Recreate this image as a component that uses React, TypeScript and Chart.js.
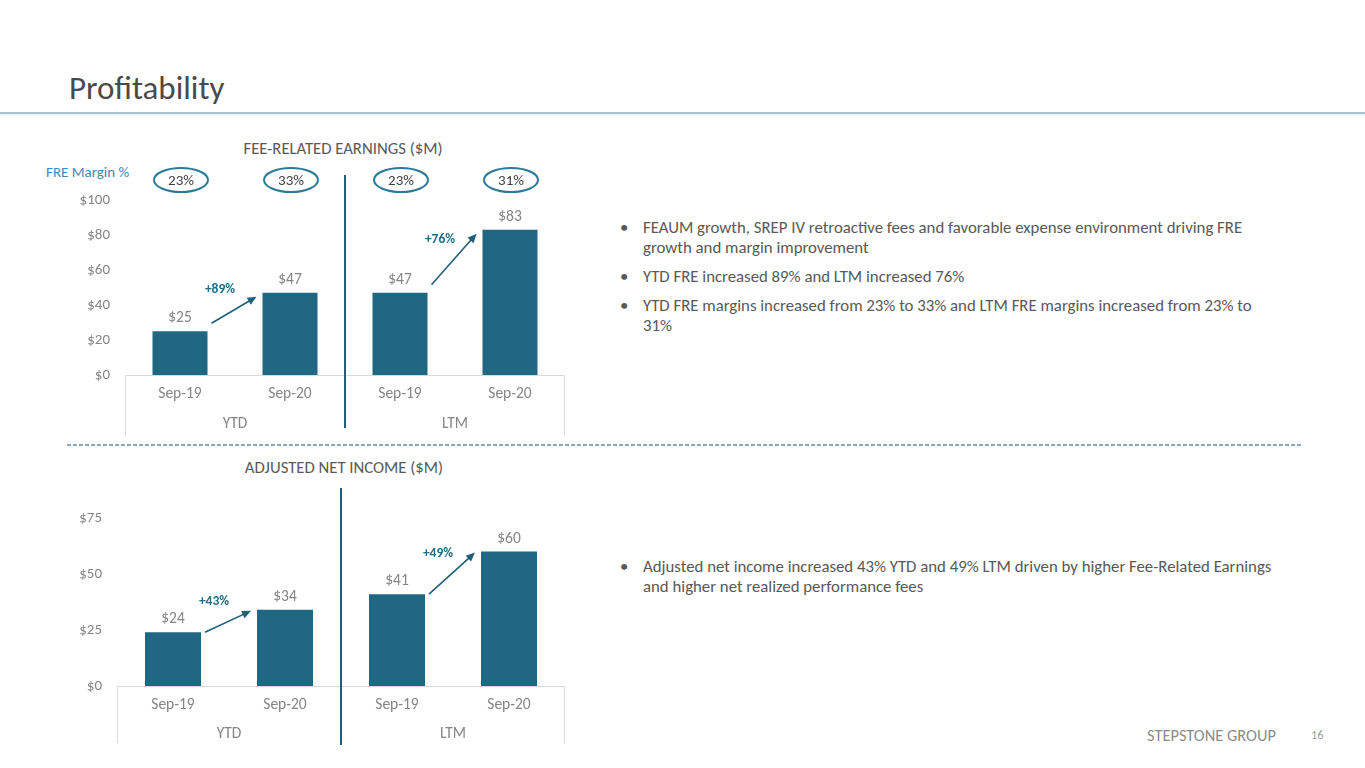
import { useEffect, useRef } from "react";
import { Chart, registerables } from "chart.js";

Chart.register(...registerables);

const FONT = "Carlito, Lato, 'Open Sans', sans-serif";

// chart data
const CATEGORIES = ["Sep-19", "Sep-20", "Sep-19", "Sep-20"];
const GROUPS = ["YTD", "LTM"];

const FRE_VALUES = [25, 47, 47, 83];
const FRE_MARGINS = ["23%", "33%", "23%", "31%"];
const FRE_GROWTH = ["+89%", "+76%"];
const FRE_MAX = 100;
const FRE_STEP = 20;

const ANI_VALUES = [24, 34, 41, 60];
const ANI_GROWTH = ["+43%", "+49%"];
const ANI_MAX = 75;
const ANI_STEP = 25;

const TOP_BULLETS = [
  ["FEAUM growth, SREP IV retroactive fees and favorable expense environment driving FRE", "growth and margin improvement"],
  ["YTD FRE increased 89% and LTM increased 76%"],
  ["YTD FRE margins increased from 23% to 33% and LTM FRE margins increased from 23% to", "31%"],
];
const BOTTOM_BULLETS = [
  ["Adjusted net income increased 43% YTD and 49% LTM driven by higher Fee-Related Earnings", "and higher net realized performance fees"],
];

const BAR_COLOR = "#1f6782";
const DARK = "#1f5f78";
const GREY = "#858585";

interface PanelProps {
  values: number[];
  growth: string[];
  margins?: string[];
  max: number;
  step: number;
  left: number;
  top: number;
  width: number;
  height: number;
  yWidth: number;
  pad: { top: number; right: number; bottom: number };
  xHeights: [number, number];
  xPads: [number, number];
  arrow: { lift: number; drop: number };
  divider: { above: number; below: number };
}

function BarPanel(p: PanelProps) {
  const canvasRef = useRef<HTMLCanvasElement>(null);
  const chartRef = useRef<Chart | null>(null);

  useEffect(() => {
    if (!canvasRef.current) return;
    if (chartRef.current) chartRef.current.destroy();

    const overlay = {
      id: "overlay",
      afterDatasetsDraw(chart: any) {
        const ctx = chart.ctx as CanvasRenderingContext2D;
        const area = chart.chartArea;
        const xs = chart.scales.x;
        const x2 = chart.scales.x2;
        const meta = chart.getDatasetMeta(0);
        ctx.save();

        // axis box
        ctx.strokeStyle = "#d9d9d9";
        ctx.lineWidth = 1;
        ctx.beginPath();
        ctx.moveTo(area.left + 0.5, x2.bottom);
        ctx.lineTo(area.left + 0.5, area.bottom + 0.5);
        ctx.lineTo(area.right - 0.5, area.bottom + 0.5);
        ctx.lineTo(area.right - 0.5, x2.bottom);
        ctx.stroke();

        // value labels
        ctx.font = `15.5px ${FONT}`;
        ctx.fillStyle = GREY;
        ctx.textAlign = "center";
        ctx.textBaseline = "bottom";
        meta.data.forEach((bar: any, i: number) => {
          ctx.fillText(`$${p.values[i]}`, bar.x, bar.y - 5);
        });

        // YTD / LTM divider
        const mid = (xs.getPixelForValue(1) + xs.getPixelForValue(2)) / 2;
        ctx.strokeStyle = DARK;
        ctx.lineWidth = 2;
        ctx.beginPath();
        ctx.moveTo(mid, area.top - p.divider.above);
        ctx.lineTo(mid, x2.bottom + p.divider.below);
        ctx.stroke();

        // growth arrows
        p.growth.forEach((g, k) => {
          const a = meta.data[2 * k];
          const b = meta.data[2 * k + 1];
          const sx = a.x + a.width / 2 + 4;
          const sy = a.y - p.arrow.lift;
          const ex = b.x - b.width / 2 - 6;
          const ey = b.y + p.arrow.drop;
          const ang = Math.atan2(ey - sy, ex - sx);
          ctx.strokeStyle = DARK;
          ctx.fillStyle = DARK;
          ctx.lineWidth = 1.6;
          ctx.beginPath();
          ctx.moveTo(sx, sy);
          ctx.lineTo(ex - 6 * Math.cos(ang), ey - 6 * Math.sin(ang));
          ctx.stroke();
          ctx.beginPath();
          ctx.moveTo(ex, ey);
          ctx.lineTo(ex - 9 * Math.cos(ang) + 4 * Math.sin(ang), ey - 9 * Math.sin(ang) - 4 * Math.cos(ang));
          ctx.lineTo(ex - 9 * Math.cos(ang) - 4 * Math.sin(ang), ey - 9 * Math.sin(ang) + 4 * Math.cos(ang));
          ctx.closePath();
          ctx.fill();
          ctx.font = `bold 13.5px ${FONT}`;
          ctx.fillStyle = "#1d6e88";
          ctx.textAlign = "center";
          ctx.textBaseline = "middle";
          ctx.fillText(g, (sx + ex) / 2 - 14, (sy + ey) / 2 - 20);
        });

        // margin ellipses
        if (p.margins) {
          meta.data.forEach((bar: any, i: number) => {
            const cy = area.top - 20;
            ctx.strokeStyle = "#2c7a97";
            ctx.lineWidth = 2;
            ctx.beginPath();
            ctx.ellipse(bar.x + 1, cy, 27, 12, 0, 0, Math.PI * 2);
            ctx.stroke();
            ctx.font = `15px ${FONT}`;
            ctx.fillStyle = "#404040";
            ctx.textAlign = "center";
            ctx.textBaseline = "middle";
            ctx.fillText(p.margins![i], bar.x + 1, cy + 1);
          });
        }
        ctx.restore();
      },
    };

    chartRef.current = new Chart(canvasRef.current, {
      type: "bar",
      data: {
        labels: CATEGORIES,
        datasets: [{
          data: p.values,
          backgroundColor: BAR_COLOR,
          categoryPercentage: 1,
          barPercentage: 0.5,
        }],
      },
      options: {
        responsive: false,
        animation: false,
        layout: { padding: { left: 0, top: p.pad.top, right: p.pad.right, bottom: p.pad.bottom } },
        plugins: { legend: { display: false }, tooltip: { enabled: false } },
        scales: {
          x: {
            weight: 0,
            grid: { display: false, drawTicks: false },
            border: { display: false },
            ticks: { color: GREY, font: { family: FONT, size: 15.5 }, padding: p.xPads[0] },
            afterFit: (s: any) => { s.height = p.xHeights[0]; },
          },
          x2: {
            type: "category",
            labels: GROUPS,
            position: "bottom",
            weight: 1,
            offset: true,
            grid: { display: false, drawTicks: false },
            border: { display: false },
            ticks: { color: GREY, font: { family: FONT, size: 15.5 }, padding: p.xPads[1] },
            afterFit: (s: any) => { s.height = p.xHeights[1]; },
          },
          y: {
            min: 0,
            max: p.max,
            grid: { display: false, drawTicks: false },
            border: { display: false },
            ticks: {
              stepSize: p.step,
              color: GREY,
              font: { family: FONT, size: 15 },
              padding: 15,
              callback: (v: any) => `$${v}`,
            },
            afterFit: (s: any) => { s.width = p.yWidth; },
          },
        },
      },
      plugins: [overlay],
    } as any);

    return () => { chartRef.current?.destroy(); };
  }, [p]);

  return (
    <canvas
      ref={canvasRef}
      width={p.width}
      height={p.height}
      style={{ position: "absolute", left: p.left, top: p.top, width: p.width, height: p.height }}
    />
  );
}

const topPanel: PanelProps = {
  values: FRE_VALUES,
  growth: FRE_GROWTH,
  margins: FRE_MARGINS,
  max: FRE_MAX,
  step: FRE_STEP,
  left: 0,
  top: 130,
  width: 600,
  height: 320,
  yWidth: 125,
  pad: { top: 70, right: 35, bottom: 15 },
  xHeights: [35, 25],
  xPads: [10, 5],
  arrow: { lift: 8, drop: 4 },
  divider: { above: 25, below: -7 },
};

const bottomPanel: PanelProps = {
  values: ANI_VALUES,
  growth: ANI_GROWTH,
  max: ANI_MAX,
  step: ANI_STEP,
  left: 0,
  top: 450,
  width: 600,
  height: 318,
  yWidth: 117,
  pad: { top: 68, right: 35, bottom: 25 },
  xHeights: [34, 23],
  xPads: [10, 5],
  arrow: { lift: 0, drop: 1 },
  divider: { above: 30, below: 2 },
};

function Bullets({ items, top }: { items: string[][]; top: number }) {
  return (
    <div style={{ position: "absolute", left: 618, top, fontSize: 16.8, lineHeight: "20px", color: "#595959" }}>
      {items.map((lines, i) => (
        <div key={i} style={{ position: "relative", paddingLeft: 25, marginBottom: 9, whiteSpace: "nowrap" }}>
          <span style={{ position: "absolute", left: 2, top: 0 }}>•</span>
          {lines.map((l, j) => <div key={j}>{l}</div>)}
        </div>
      ))}
    </div>
  );
}

export default function App() {
  return (
    <div style={{ position: "fixed", left: 0, top: 0, width: 1365, height: 768, background: "#fff", fontFamily: FONT, overflow: "hidden" }}>
      <div style={{ position: "absolute", left: 69, top: 68, fontSize: 33, fontWeight: 300, color: "#4a4a4a" }}>Profitability</div>
      <div style={{ position: "absolute", left: 0, top: 112, width: 1365, height: 2, background: "#a9c2cd" }} />
      <div style={{ position: "absolute", left: 0, top: 114, width: 1365, height: 4, background: "linear-gradient(#eef3f6, #fff)" }} />

      <div style={{ position: "absolute", left: 193, top: 138, width: 300, textAlign: "center", fontSize: 16.7, color: "#595959", whiteSpace: "nowrap" }}>FEE-RELATED EARNINGS ($M)</div>
      <div style={{ position: "absolute", left: 46, top: 163, fontSize: 15, color: "#3a8cb4", whiteSpace: "nowrap" }}>FRE Margin %</div>
      <BarPanel {...topPanel} />

      <div style={{ position: "absolute", left: 67, top: 444, width: 1234, height: 2, background: "repeating-linear-gradient(to right, #8ea7b4 0 4px, transparent 4px 6px)" }} />

      <div style={{ position: "absolute", left: 194, top: 457, width: 300, textAlign: "center", fontSize: 16.7, color: "#595959", whiteSpace: "nowrap" }}>ADJUSTED NET INCOME ($M)</div>
      <BarPanel {...bottomPanel} />

      <Bullets items={TOP_BULLETS} top={218} />
      <Bullets items={BOTTOM_BULLETS} top={557} />

      <div style={{ position: "absolute", left: 1147, top: 725, fontSize: 16.4, color: "#8c8c8c", whiteSpace: "nowrap" }}>STEPSTONE GROUP</div>
      <div style={{ position: "absolute", left: 1311, top: 727, fontSize: 12.5, color: "#a0a0a0" }}>16</div>
    </div>
  );
}
